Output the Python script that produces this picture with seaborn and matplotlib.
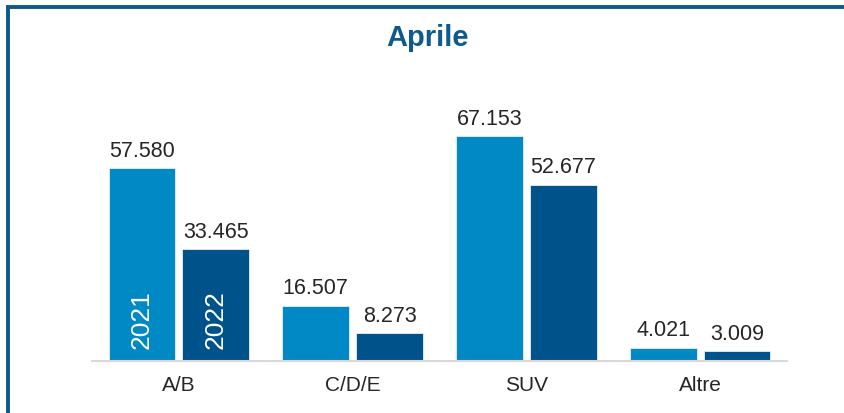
import pandas as pd
import matplotlib
matplotlib.use("Agg")
import matplotlib.pyplot as plt
import seaborn as sns
from matplotlib.patches import Rectangle

# Data
categories = ["A/B", "C/D/E", "SUV", "Altre"]
years = ["2021", "2022"]
values_2021 = [57580, 16507, 67153, 4021]
values_2022 = [33465, 8273, 52677, 3009]

colors = ["#0089c4", "#00538a"]

df = pd.DataFrame({
    "segmento": categories * 2,
    "anno": [years[0]] * 4 + [years[1]] * 4,
    "valore": values_2021 + values_2022,
})

sns.set_theme(style="white")
plt.rcParams["font.family"] = ["Liberation Sans", "DejaVu Sans"]

fig = plt.figure(figsize=(8.44, 4.13), dpi=100)
ax = fig.add_axes([92 / 844, 1 - 361 / 413, 695 / 844, 301 / 413])

sns.barplot(data=df, x="segmento", y="valore", hue="anno", order=categories,
            hue_order=years, palette=colors, saturation=1, width=0.85, gap=0.094,
            edgecolor="#e6f0f7", linewidth=0.6, legend=False, ax=ax)

ax.set_xlim(-0.5, 3.5)
ax.set_ylim(0, 89850)
ax.set_xlabel("")
ax.set_ylabel("")
ax.set_yticks([])
for side in ["top", "right", "left"]:
    ax.spines[side].set_visible(False)
ax.spines["bottom"].set_color("#d9d9d9")
ax.spines["bottom"].set_linewidth(1.5)
ax.tick_params(axis="x", length=0, pad=11, labelsize=15, colors="#262626")

# value labels above bars, italian thousands separator
for container in ax.containers:
    labels = [f"{int(v):,}".replace(",", ".") for v in container.datavalues]
    ax.bar_label(container, labels=labels, padding=4.5, fontsize=15.5, color="#262626")

# year labels inside the A/B bars
for container, yr in zip(ax.containers, years):
    bar = container[0]
    ax.text(bar.get_x() + bar.get_width() / 2, 3600, yr, rotation=90,
            ha="center", va="bottom", color="white", fontsize=19)

fig.text(428 / 844, 1 - 38 / 413, "Aprile", ha="center", va="center",
         fontsize=21, fontweight="bold", color="#0e5a8e")

# frame of the slide box (top and left edges visible)
fig.patches.append(Rectangle((8 / 844, -0.1), 1.1, 1 - 7 / 413 + 0.1,
                             transform=fig.transFigure, fill=False,
                             edgecolor="#0b5a8c", linewidth=2.8))

fig.savefig("out.png", dpi=100)
